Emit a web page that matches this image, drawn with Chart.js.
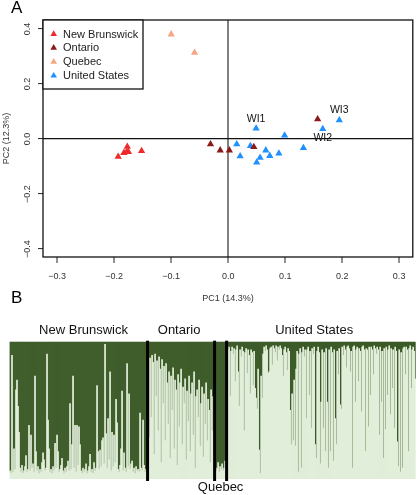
<!DOCTYPE html>
<html><head><meta charset="utf-8">
<script src="https://cdn.jsdelivr.net/npm/chart.js@4"></script>
<style>
html,body{margin:0;padding:0;background:#fff;}
#wrap{position:relative;width:417px;height:495px;overflow:hidden;background:#fff;}
#boxA{position:absolute;left:0;top:0;width:417px;height:310px;}
#boxB{position:absolute;left:0;top:310px;width:417px;height:185px;}
</style></head><body>
<div id="wrap"><div id="boxA"><canvas id="cA"></canvas></div><div id="boxB"><canvas id="cB"></canvas></div></div>
<script>
// ---------- Panel A data (PCA) ----------
const seriesNames = ['New Brunswick', 'Ontario', 'Quebec', 'United States'];
const seriesColors = ['#ee2a2a', '#8b1a1a', '#f7a582', '#1e90ff'];
const nbX = [-0.177, -0.175, -0.183, -0.178, -0.193, -0.152];
const nbY = [-0.028, -0.047, -0.050, -0.046, -0.064, -0.043];
const onX = [-0.031, -0.014, 0.002, 0.045, 0.157];
const onY = [-0.019, -0.041, -0.041, -0.029, 0.072];
const qcX = [-0.100, -0.059];
const qcY = [0.381, 0.314];
const usX = [0.049, 0.166, 0.195, 0.099, 0.015, 0.039, 0.021, 0.056, 0.050, 0.066, 0.073, 0.089, 0.132];
const usY = [0.039, 0.037, 0.069, 0.013, -0.019, -0.025, -0.062, -0.068, -0.085, -0.041, -0.061, -0.052, -0.032];
const pointLabels = ['WI1', 'WI2', 'WI3'];
const pointLabelIndex = [0, 1, 2];          // indices in the US series
const pointLabelSide = ['above', 'below', 'above'];
const xTitle = 'PC1 (14.3%)';
const yTitle = 'PC2 (12.3%)';

// ---------- Panel B data (ancestry proportions, % of dark cluster) ----------
const groupNames = ['New Brunswick', 'Ontario', 'Quebec', 'United States'];
const nbDark = [94,96,10,95,78,93,35,28,47,66,
92,95,90,96,94,91,83,95,93,61,
94,68,92,89,95,25,80,94,91,96,
93,95,88,81,86,94,92,9,57,78,
95,93,96,91,94,74,92,68,80,95,
93,90,85,94,96,92,95,91,87,94,
45,93,75,25,92,61,95,61,90,62,
75,94,96,92,95,93,89,96,94,91,
82,95,93,96,88,94,92,32,80,93,
79,91,72,70,89,2,67,92,56,86,
22,94,66,91,68,88,42,59,93,95,
90,78,36,94,81,92,95,16,91,38,
93,89,87,95,92,96,91,94,93,95,
52,92,94,57,90,95,93,96];
const onDark = [8,70,12,55,10,15,82,9,40,14,
65,11,20,88,13,45,18,72,16,30,
60,22,85,25,50,19,78,28,35,90,
24,62,30,20,75,33,45,27,86,36,
58,25,80,38,30,68,22,92,40,35,
55,28,76,45,33,84,38,60,30,72,
42,50,88,35,65,40,78];
const qcDark = [90,94,92,88,95,91,93,89,94,92,87,91];
const usDark = [3,6,4,40,7,4,9,5,29,6,
3,22,47,6,11,4,7,65,8,5,
23,6,10,38,6,8,32,7,34,41,
49,20,79,96,25,41,9,4,7,3,
6,23,22,5,4,17,3,5,8,3,
14,4,6,3,5,10,25,6,4,8,
21,5,7,50,75,38,72,28,76,20,
7,95,9,5,92,8,4,11,6,56,
6,4,39,7,63,5,9,4,75,85,
7,4,8,89,44,6,63,8,80,5,
44,92,6,80,4,8,87,6,56,75,
7,24,5,46,49,4,10,3,6,19,
4,3,5,22,7,92,4,3,44,6,
4,29,5,7,51,4,3,6,80,5,
6,62,4,39,4,6,24,3,5,9,
4,6,68,4,44,7,85,5,64,4,
39,6,3,53,5,34,6,63,4,7,
73,91,6,95,8,92,5,4,24,4,
6,80,5,3,34,6,4,7,27];

Chart.defaults.font.family = "'Liberation Sans', Arial, Helvetica, sans-serif";
Chart.defaults.color = '#333';

function tri(ctx, x, y, r) {
  ctx.beginPath();
  ctx.moveTo(x, y - r);
  ctx.lineTo(x + r * 0.866, y + r * 0.5);
  ctx.lineTo(x - r * 0.866, y + r * 0.5);
  ctx.closePath();
  ctx.fill();
}

const toPts = (xs, ys) => xs.map((x, i) => ({x: x, y: ys[i]}));
const ptSets = [toPts(nbX, nbY), toPts(onX, onY), toPts(qcX, qcY), toPts(usX, usY)];

const frameA = {
  id: 'frameA',
  afterDraw(chart) {
    const ctx = chart.ctx, a = chart.chartArea;
    ctx.save();
    ctx.strokeStyle = '#111';
    ctx.lineWidth = 1.3;
    ctx.strokeRect(a.left, a.top, a.right - a.left, a.bottom - a.top);
    // legend box
    const lw = 100, lh = 69;
    ctx.fillStyle = '#fff';
    ctx.fillRect(a.left, a.top, lw, lh);
    ctx.strokeRect(a.left, a.top, lw, lh);
    ctx.font = "11px 'Liberation Sans', Arial, sans-serif";
    ctx.textBaseline = 'middle';
    ctx.textAlign = 'left';
    chart.data.datasets.forEach((ds, k) => {
      const yy = a.top + 14 + k * 13.9;
      ctx.fillStyle = ds.backgroundColor;
      tri(ctx, a.left + 10.7, yy, 3.8);
      ctx.fillStyle = '#222';
      ctx.fillText(ds.label, a.left + 20, yy + 0.5);
    });
    // point labels
    const meta = chart.getDatasetMeta(3);
    ctx.fillStyle = '#111';
    ctx.font = "10.5px 'Liberation Sans', Arial, sans-serif";
    ctx.textAlign = 'center';
    pointLabels.forEach((t, k) => {
      const el = meta.data[pointLabelIndex[k]];
      const dy = pointLabelSide[k] === 'above' ? -9.5 : 9.5;
      ctx.fillText(t, el.x, el.y + dy);
    });
    // panel letters
    ctx.font = "17px 'Liberation Sans', Arial, sans-serif";
    ctx.textAlign = 'left';
    ctx.fillStyle = '#000';
    ctx.fillText('A', 11, 8);
    ctx.fillText('B', 11, 298);
    ctx.restore();
  }
};

const fmt = v => (Math.abs(v) < 1e-9 ? '0.0' : (v < 0 ? '\u2212' + Math.abs(v).toFixed(1) : v.toFixed(1)));

new Chart(document.getElementById('cA'), {
  type: 'scatter',
  data: {
    datasets: seriesNames.map((n, k) => ({
      label: n,
      data: ptSets[k],
      backgroundColor: seriesColors[k],
      borderColor: seriesColors[k],
      pointStyle: 'triangle',
      pointRadius: 4.2,
      pointHoverRadius: 4.2,
      pointBorderWidth: 0
    }))
  },
  options: {
    responsive: true,
    maintainAspectRatio: false,
    animation: false,
    events: [],
    layout: {padding: {left: 0, top: 20, right: 1, bottom: 0}},
    plugins: {legend: {display: false}, tooltip: {enabled: false}},
    scales: {
      x: {
        type: 'linear', min: -0.325, max: 0.324,
        afterFit: s => { s.height = 53; },
        ticks: {stepSize: 0.1, includeBounds: false, callback: fmt, font: {size: 9}, color: '#333', padding: 8, maxRotation: 0},
        grid: {
          color: c => (c.tick && Math.abs(c.tick.value) < 1e-9 ? '#808080' : 'rgba(0,0,0,0)'),
          lineWidth: 2, tickLength: 6, tickColor: '#222', tickWidth: 1
        },
        border: {display: false},
        title: {display: true, text: xTitle, font: {size: 9}, color: '#333', padding: {top: 0, bottom: 6}}
      },
      y: {
        type: 'linear', min: -0.429, max: 0.433,
        afterFit: s => { s.width = 43; },
        ticks: {stepSize: 0.2, includeBounds: false, callback: fmt, font: {size: 9}, color: '#333', padding: 2, minRotation: 90, maxRotation: 90, crossAlign: 'center'},
        grid: {
          color: c => (c.tick && Math.abs(c.tick.value) < 1e-9 ? '#111' : 'rgba(0,0,0,0)'),
          lineWidth: 1.2, tickLength: 5, tickColor: '#222', tickWidth: 1
        },
        border: {display: false},
        title: {display: true, text: yTitle, font: {size: 9}, color: '#333', padding: {top: 1, bottom: 0}}
      }
    }
  },
  plugins: [frameA]
});

// ---------- Panel B ----------
const groupData = [nbDark, onDark, qcDark, usDark];
const prefixes = ['NB', 'ON', 'QC', 'US'];
const indLabels = [];
const darkShare = [];
const groupStart = [];
groupData.forEach((arr, g) => {
  groupStart.push(darkShare.length);
  arr.forEach((v, i) => { indLabels.push(prefixes[g] + (i + 1)); darkShare.push(v); });
});
const lightShare = darkShare.map(v => 100 - v);

const labelShift = [5, -2, 0, -7];   // small horizontal nudges of group names (px)
const structPlugin = {
  id: 'structPlugin',
  afterDraw(chart) {
    const ctx = chart.ctx, a = chart.chartArea, xs = chart.scales.x;
    ctx.save();
    // separators
    ctx.strokeStyle = '#000';
    ctx.lineWidth = 3;
    for (let g = 1; g < groupData.length; g++) {
      const s = groupStart[g];
      const px = (xs.getPixelForValue(s - 1) + xs.getPixelForValue(s)) / 2;
      ctx.beginPath();
      ctx.moveTo(px, a.top - 1);
      ctx.lineTo(px, a.bottom + 2);
      ctx.stroke();
    }
    // group names
    ctx.fillStyle = '#111';
    ctx.font = "13px 'Liberation Sans', Arial, sans-serif";
    ctx.textAlign = 'center';
    ctx.textBaseline = 'middle';
    groupNames.forEach((n, g) => {
      const s = groupStart[g], e = s + groupData[g].length - 1;
      const cx = (xs.getPixelForValue(s) + xs.getPixelForValue(e)) / 2 + labelShift[g];
      const below = groupData[g].length < 20;
      ctx.fillText(n, cx, below ? a.bottom + 8.5 : a.top - 11.5);
    });
    ctx.restore();
  }
};

new Chart(document.getElementById('cB'), {
  type: 'bar',
  data: {
    labels: indLabels,
    datasets: [
      {label: 'Cluster 2', data: lightShare, backgroundColor: '#e1eed9', borderWidth: 0},
      {label: 'Cluster 1', data: darkShare, backgroundColor: '#3b5a27', borderWidth: 0}
    ]
  },
  options: {
    responsive: true,
    maintainAspectRatio: false,
    animation: false,
    events: [],
    layout: {padding: {left: 9.5, top: 31.7, right: 1.3, bottom: 16}},
    datasets: {bar: {barPercentage: 1, categoryPercentage: 1}},
    plugins: {legend: {display: false}, tooltip: {enabled: false}},
    scales: {
      x: {stacked: true, display: false},
      y: {stacked: true, display: false, min: 0, max: 100}
    }
  },
  plugins: [structPlugin]
});
</script>
</body></html>
